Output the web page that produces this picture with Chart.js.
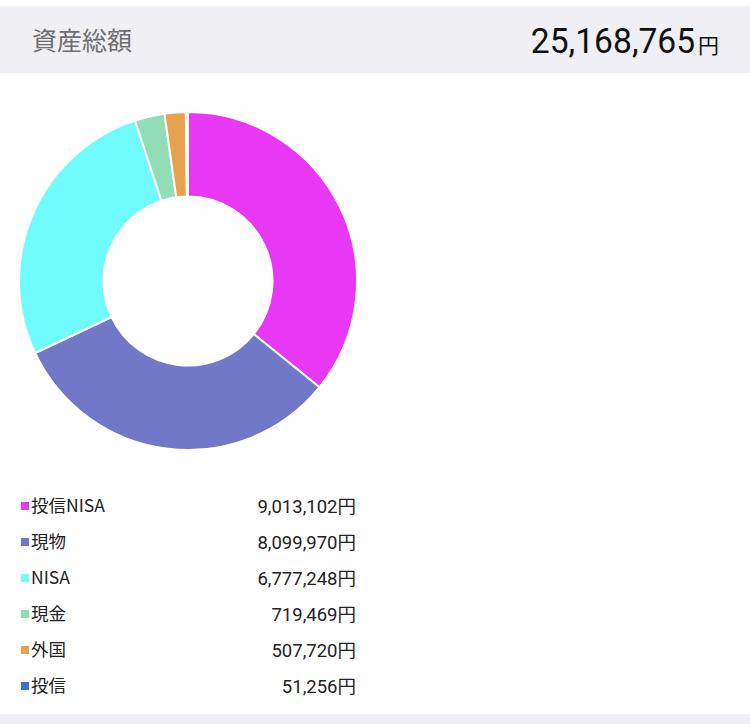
<!DOCTYPE html>
<html lang="ja">
<head>
<meta charset="utf-8">
<script src="https://cdn.jsdelivr.net/npm/chart.js@4/dist/chart.umd.min.js"></script>
<style>
  html, body { margin: 0; padding: 0; background: #fff; width: 750px; height: 724px; overflow: hidden; font-family: "Noto Sans CJK JP", Roboto, sans-serif; }
  .header { position: absolute; left: 0; top: 6px; width: 750px; height: 67px; background: #efeff4; }
  .title { position: absolute; left: 32px; top: 0; line-height: 67px; font-size: 25px; color: #6e6e6e; }
  .total { position: absolute; right: 31px; top: 0; line-height: 72px; color: #111; font-family: Roboto, sans-serif; }
  .total .num { font-size: 35px; display: inline-block; transform: scaleX(0.96); transform-origin: right center; }
  .total .yen { font-size: 21px; font-family: "Noto Sans CJK JP", sans-serif; margin-left: 3px; }
  #chartBox { position: absolute; left: 18px; top: 111px; width: 340px; height: 340px; }
  .legend { position: absolute; left: 21px; top: 490px; width: 335px; }
  .row { position: relative; height: 36px; line-height: 30px; font-size: 17.5px; color: #222; }
  .row .mark { position: absolute; left: 0; top: 12px; width: 8px; height: 8px; }
  .row .label { position: absolute; left: 10px; }
  .row .value { position: absolute; right: 0; font-family: Roboto, sans-serif; font-size: 18.5px; }
  .row .value .yen { font-family: "Noto Sans CJK JP", sans-serif; }
  .footer { position: absolute; left: 0; top: 714px; width: 750px; height: 10px; background: #efeff4; }
</style>
</head>
<body>
<div class="header">
  <div class="title">資産総額</div>
  <div class="total"><span class="num" id="totalNum"></span><span class="yen">円</span></div>
</div>
<div id="chartBox"><canvas id="assetChart" width="340" height="340"></canvas></div>
<div class="legend" id="legend"></div>
<div class="footer"></div>

<script>
// Asset categories and amounts (yen)
const categories = ['投信NISA', '現物', 'NISA', '現金', '外国', '投信'];
const amounts = [9013102, 8099970, 6777248, 719469, 507720, 51256];
const colors = ['#e838f6', '#7178c8', '#70fbfc', '#91ddb5', '#e6a24f', '#3575cc'];

const fmt = n => n.toLocaleString('en-US');

document.getElementById('totalNum').textContent = fmt(amounts.reduce((a, b) => a + b, 0));

// Build the legend list
const legend = document.getElementById('legend');
categories.forEach((name, i) => {
    const row = document.createElement('div');
    row.className = 'row';
    row.innerHTML = `<span class="mark" style="background:${colors[i]}"></span>` +
        `<span class="label">${name}</span>` +
        `<span class="value">${fmt(amounts[i])}<span class="yen">円</span></span>`;
    legend.appendChild(row);
});

new Chart(document.getElementById('assetChart'), {
    type: 'doughnut',
    data: {
        labels: categories,
        datasets: [{
            data: amounts,
            backgroundColor: colors,
            borderColor: '#ffffff',
            borderWidth: 2
        }]
    },
    options: {
        responsive: false,
        animation: false,
        cutout: '50%',
        plugins: {
            legend: { display: false },
            tooltip: { enabled: false }
        }
    }
});
</script>
</body>
</html>
